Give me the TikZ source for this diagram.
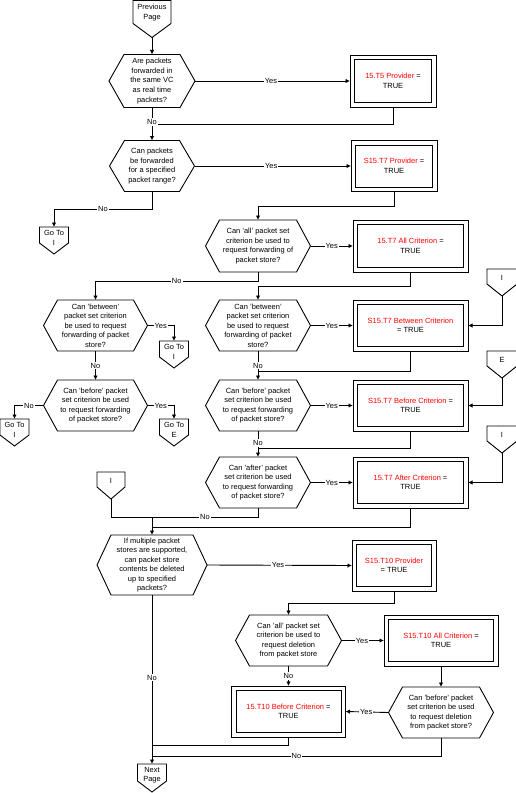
\documentclass[tikz,border=0pt]{standalone}
\usepackage{fontspec}
\setmainfont{Liberation Sans}
\usetikzlibrary{arrows.meta}
\definecolor{rd}{RGB}{255,0,0}
\tikzset{
 ln/.style={line width=0.9bp, draw=black},
 arr/.style={ln, -{Latex[length=4.5bp,width=4.5bp]}},
 txt/.style={font=\fontsize{7.5}{9.6}\selectfont, align=center, inner sep=0pt, outer sep=0pt},
 hx/.style 2 args={txt, minimum width=#1, minimum height=#2},
 bx/.style 2 args={txt, ln, minimum width=#1, minimum height=#2},
 lbl/.style={font=\fontsize{7.5}{8}\selectfont, fill=white, inner sep=1bp},
}
\newcommand{\hexd}[2]{%
  \draw[ln] ([xshift=#2]#1.north west) -- ([xshift=-#2]#1.north east) -- (#1.east) -- ([xshift=-#2]#1.south east) -- ([xshift=#2]#1.south west) -- (#1.west) -- cycle;}
\newcommand{\dbox}[1]{\draw[ln] ([xshift=4.5bp,yshift=-4.5bp]#1.north west) rectangle ([xshift=-4.5bp,yshift=4.5bp]#1.south east);}
\newcommand{\offpg}[8]{%
 \draw[ln] ({#2-#4/2},#3) -- ({#2+#4/2},#3) -- ({#2+#4/2},{#3+#5}) -- (#2,{#3+#5+#6}) -- ({#2-#4/2},{#3+#5}) -- cycle;
 \coordinate (#1-top) at (#2,#3);
 \coordinate (#1-tip) at (#2,{#3+#5+#6});
 \node[txt] (#1) at (#2,{#3+#7}) {#8};}
\begin{document}
\begin{tikzpicture}[x=1bp,y=-1bp]
\useasboundingbox[fill=white] (0,0) rectangle (516,793);

% off-page connectors
\offpg{prev}{152}{0.5}{38}{23}{14}{12}{Previous\\Page}
\offpg{g1}{54}{227}{29}{16}{11}{11}{Go To\\I}
\offpg{g2}{174}{341}{29}{16}{11}{11}{Go To\\I}
\offpg{g3}{174}{419}{29}{16}{11}{11}{Go To\\E}
\offpg{g4}{14.5}{419}{29}{16}{11}{11}{Go To\\I}
\offpg{r1}{502}{269}{30}{15}{12}{9}{I}
\offpg{r2}{502}{351}{30}{15}{12}{9}{E}
\offpg{r3}{502}{426}{30}{15}{12}{9}{I}
\offpg{l1}{111}{472}{28}{15}{12}{9}{I}
\offpg{nx}{152}{764}{29}{17}{11}{11}{Next\\Page}

% decisions and boxes
\node[hx={86bp}{53bp}] (d1) at (152,81) {Are packets\\forwarded in\\the same VC\\as real time\\packets?}; \hexd{d1}{15bp}
\node[bx={86bp}{52bp}] (b1) at (393,81) {{\color{rd}15.T5 Provider} =\\TRUE}; \dbox{b1}

\node[hx={85bp}{51bp}] (d2) at (152,166) {Can packets\\be forwarded\\for a specified\\packet range?}; \hexd{d2}{15bp}
\node[bx={86bp}{51bp}] (b2) at (394,166) {{\color{rd}S15.T7 Provider} =\\TRUE}; \dbox{b2}

\node[hx={105bp}{52bp}] (d3) at (258,246) {Can 'all' packet set\\criterion be used to\\request forwarding of\\packet store?}; \hexd{d3}{14bp}
\node[bx={115bp}{52bp}] (b3) at (410.5,246) {{\color{rd}15.T7 All Criterion} =\\TRUE}; \dbox{b3}

\node[hx={105bp}{51bp}] (d4) at (258,325.5) {Can 'between'\\packet set criterion\\be used to request\\forwarding of packet\\store?}; \hexd{d4}{14bp}
\node[bx={115bp}{51bp}] (b4) at (410.5,325.5) {{\color{rd}S15.T7 Between Criterion}\\= TRUE}; \dbox{b4}

\node[hx={104bp}{51bp}] (d4L) at (95.5,325.5) {Can 'between'\\packet set criterion\\be used to request\\forwarding of packet\\store?}; \hexd{d4L}{14bp}

\node[hx={105bp}{51bp}] (d5) at (258,405.5) {Can 'before' packet\\set criterion be used\\to request forwarding\\of packet store?}; \hexd{d5}{14bp}
\node[bx={115bp}{51bp}] (b5) at (410.5,405.5) {{\color{rd}S15.T7 Before Criterion} =\\TRUE}; \dbox{b5}

\node[hx={104bp}{51bp}] (d5L) at (95.5,405.5) {Can 'before' packet\\set criterion be used\\to request forwarding\\of packet store?}; \hexd{d5L}{14bp}

\node[hx={105bp}{51bp}] (d6) at (258,482.5) {Can 'after' packet\\set criterion be used\\to request forwarding\\of packet store?}; \hexd{d6}{14bp}
\node[bx={115bp}{51bp}] (b6) at (410.5,482.5) {{\color{rd}15.T7 After Criterion} =\\TRUE}; \dbox{b6}

\node[hx={110bp}{60bp}] (d7) at (152,565) {If multiple packet\\stores are supported,\\can packet store\\contents be deleted\\up to specified\\packets?}; \hexd{d7}{14bp}
\node[bx={84bp}{51bp}] (b7) at (394,565.5) {{\color{rd}S15.T10 Provider}\\= TRUE}; \dbox{b7}

\node[hx={106bp}{51bp}] (d8) at (288.5,640.5) {Can 'all' packet set\\criterion be used to\\request deletion\\from packet store}; \hexd{d8}{14bp}
\node[bx={114bp}{51bp}] (b8) at (441,640.5) {{\color{rd}S15.T10 All Criterion} =\\TRUE}; \dbox{b8}

\node[hx={105bp}{51bp}] (d9) at (441,712.5) {Can 'before' packet\\set criterion be used\\to request deletion\\from packet store?}; \hexd{d9}{14bp}
\node[bx={114bp}{51bp}] (b9) at (288.5,711.5) {{\color{rd}15.T10 Before Criterion} =\\TRUE}; \dbox{b9}

% junction coordinates
\coordinate (j1) at (152,124);
\coordinate (c2) at (54,209);
\coordinate (c3) at (258,206);
\coordinate (c4) at (95.5,281);
\coordinate (c5) at (258,286);
\coordinate (c6) at (258,371);
\coordinate (c7) at (258,448);
\coordinate (c8) at (152,517);
\coordinate (c9) at (152,527);
\coordinate (c11) at (288.5,603);
\coordinate (c12) at (152,745);
\coordinate (c13) at (152,756);

% connectors
\draw[arr] (prev-tip) -- (d1.north);
\draw[arr] (d1.east) -- node[lbl,pos=0.49]{Yes} (b1.west);
\draw[ln] (b1.south) |- (j1);
\draw[arr] (d1.south) -- node[lbl,pos=0.44]{No} (d2.north);
\draw[arr] (d2.east) -- node[lbl,pos=0.49]{Yes} (b2.west);
\draw[arr] (d2.south) |- node[lbl,pos=0.75]{No} (c2) -- (g1-top);
\draw[arr] (b2.south) |- (c3) -- (d3.north);
\draw[arr] (d3.east) -- node[lbl]{Yes} (b3.west);
\draw[arr] (d3.south) |- node[lbl,pos=0.75]{No} (c4) -- (d4L.north);
\draw[arr] (b3.south) |- (c5) -- (d4.north);
\draw[arr] (d4.east) -- node[lbl]{Yes} (b4.west);
\draw[arr] (r1-tip) |- (b4.east);
\draw[ln] (b4.south) |- (c6);
\draw[arr] (d4.south) -- node[lbl,pos=0.5]{No} (d5.north);
\draw[arr] (d5.east) -- node[lbl]{Yes} (b5.west);
\draw[arr] (r2-tip) |- (b5.east);
\draw[ln] (b5.south) |- (c7);
\draw[arr] (d5.south) -- node[lbl,pos=0.46]{No} (d6.north);
\draw[arr] (d6.east) -- node[lbl]{Yes} (b6.west);
\draw[arr] (r3-tip) |- (b6.east);
\draw[arr] (d6.south) |- node[lbl,pos=0.75]{No} (c8) -- (d7.north);
\draw[ln] (l1-tip) |- (c8);
\draw[ln] (b6.south) |- (c9);

\draw[arr] (d4L.east) -| node[lbl,pos=0.25]{Yes} (g2-top);
\draw[arr] (d4L.south) -- node[lbl,pos=0.5]{No} (d5L.north);
\draw[arr] (d5L.east) -| node[lbl,pos=0.25]{Yes} (g3-top);
\draw[arr] (d5L.west) -| node[lbl,pos=0.25]{No} (g4-top);

\draw[arr] (d7.east) -- node[lbl,pos=0.49]{Yes} (b7.west);
\draw[arr] (b7.south) |- (c11) -- (d8.north);
\draw[arr] (d8.east) -- node[lbl,pos=0.48]{Yes} (b8.west);
\draw[arr] (b8.south) -- (d9.north);
\draw[arr] (d9.west) -- node[lbl,pos=0.52]{Yes} (b9.east);
\draw[arr] (d8.south) -- node[lbl,pos=0.5]{No} (b9.north);
\draw[ln] (b9.south) |- (c12);
\draw[ln] (d9.south) |- node[lbl,pos=0.75]{No} (c13);
\draw[arr] (d7.south) -- node[lbl,pos=0.49]{No} (nx-top);
\end{tikzpicture}
\end{document}
